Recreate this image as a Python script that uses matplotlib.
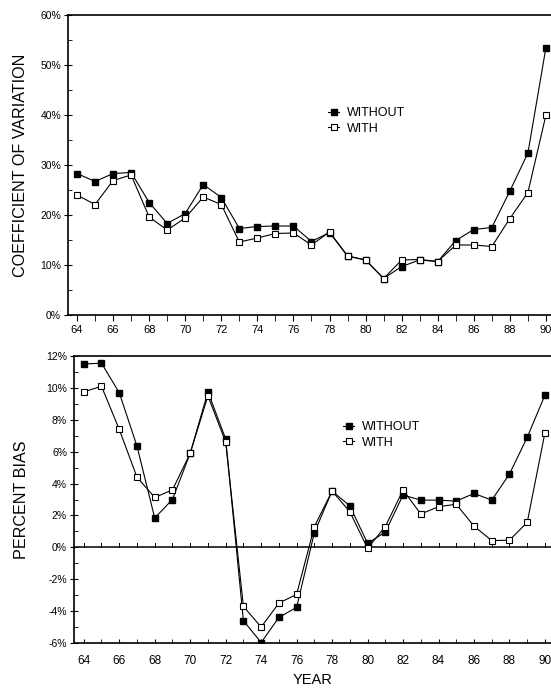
import numpy as np
import matplotlib
matplotlib.use("Agg")
import matplotlib.pyplot as plt
from matplotlib.ticker import MultipleLocator, FuncFormatter

plt.rcParams['font.family'] = ['Liberation Sans', 'DejaVu Sans']

years = list(range(64, 91))

# coefficient of variation (%)
cv_without = [28.3, 26.7, 28.3, 28.5, 22.5, 18.3, 20.3, 26.1, 23.5, 17.3, 17.7, 17.8, 17.8,
              14.7, 16.5, 11.8, 11.0, 7.3, 9.7, 11.0, 10.7, 14.9, 17.1, 17.5, 24.8, 32.4, 53.5]
cv_with = [24.0, 22.1, 26.9, 28.0, 19.6, 17.0, 19.4, 23.6, 22.1, 14.6, 15.4, 16.3, 16.4,
           14.0, 16.6, 11.8, 11.0, 7.3, 11.0, 11.1, 10.7, 14.0, 14.0, 13.7, 19.3, 24.5, 40.0]

# percent bias (%)
bias_without = [11.5, 11.55, 9.7, 6.35, 1.84, 3.0, 5.9, 9.75, 6.8, -4.6, -5.97, -4.4, -3.76,
                0.92, 3.53, 2.6, 0.25, 0.96, 3.28, 2.96, 2.96, 2.9, 3.38, 2.96, 4.6, 6.9, 9.55]
bias_with = [9.75, 10.1, 7.4, 4.4, 3.13, 3.6, 5.9, 9.5, 6.6, -3.7, -5.0, -3.5, -2.95,
             1.3, 3.53, 2.23, -0.06, 1.3, 3.59, 2.09, 2.55, 2.7, 1.33, 0.42, 0.45, 1.57, 7.2]

W, H = 551, 692
fig = plt.figure(figsize=(W / 100, H / 100), dpi=100)

ax1 = fig.add_axes([68 / W, (H - 315) / H, (W - 68) / W, 300 / H])
ax2 = fig.add_axes([74 / W, (H - 643) / H, (W - 74) / W, 287 / H])

pct = FuncFormatter(lambda v, p: f"{v:.0f}%")

def draw(ax, a, b):
    ax.plot(years, a, color='black', lw=0.8, marker='s', ms=5,
            mfc='black', mec='black', label='WITHOUT', zorder=3)
    ax.plot(years, b, color='black', lw=0.8, marker='s', ms=5,
            mfc='white', mec='black', mew=0.8, label='WITH', zorder=3)
    ax.spines['right'].set_visible(False)
    for s in ['left', 'top', 'bottom']:
        ax.spines[s].set_linewidth(1.2)
    ax.xaxis.set_major_locator(MultipleLocator(2))
    ax.xaxis.set_minor_locator(MultipleLocator(1))
    ax.yaxis.set_major_formatter(pct)
    ax.legend(loc='upper left', frameon=False, handlelength=0.9, handletextpad=0.6,
              labelspacing=0.3, fontsize=9, borderaxespad=0)

# top panel
draw(ax1, cv_without, cv_with)
ax1.set_xlim(63.5, 90.28)
ax1.set_ylim(0, 60)
ax1.yaxis.set_major_locator(MultipleLocator(10))
ax1.yaxis.set_minor_locator(MultipleLocator(5))
ax1.tick_params(axis='y', which='major', direction='inout', length=6, labelsize=7.5, pad=2)
ax1.tick_params(axis='y', which='minor', direction='in', length=3)
ax1.tick_params(axis='x', which='both', direction='out', length=4, labelsize=8)
ax1.set_ylabel('COEFFICIENT OF VARIATION', fontsize=11.6, labelpad=9)
ax1.get_legend().set_bbox_to_anchor((323 / W, 1 - 102 / H), transform=fig.transFigure)

# bottom panel
draw(ax2, bias_without, bias_with)
ax2.axhline(0, color='black', lw=1.1, zorder=2)
ax2.set_xlim(63.45, 90.34)
ax2.set_ylim(-6, 12)
ax2.yaxis.set_major_locator(MultipleLocator(2))
ax2.yaxis.set_minor_locator(MultipleLocator(1))
ax2.tick_params(axis='y', which='major', direction='inout', length=6, labelsize=7.5, pad=2)
ax2.tick_params(axis='y', which='minor', direction='in', length=3)
ax2.tick_params(axis='x', which='both', direction='in', length=3, labelsize=8.5, pad=9)
ax2.set_ylabel('PERCENT BIAS', fontsize=11.6, labelpad=12)
ax2.set_xlabel('YEAR', fontsize=10.5, labelpad=4)
for x in years:
    ax2.plot([x, x], [0, 0.25], color='black', lw=0.7, zorder=2)
ax2.get_legend().set_bbox_to_anchor((338 / W, 1 - 416 / H), transform=fig.transFigure)

fig.savefig('out.png', dpi=100)
